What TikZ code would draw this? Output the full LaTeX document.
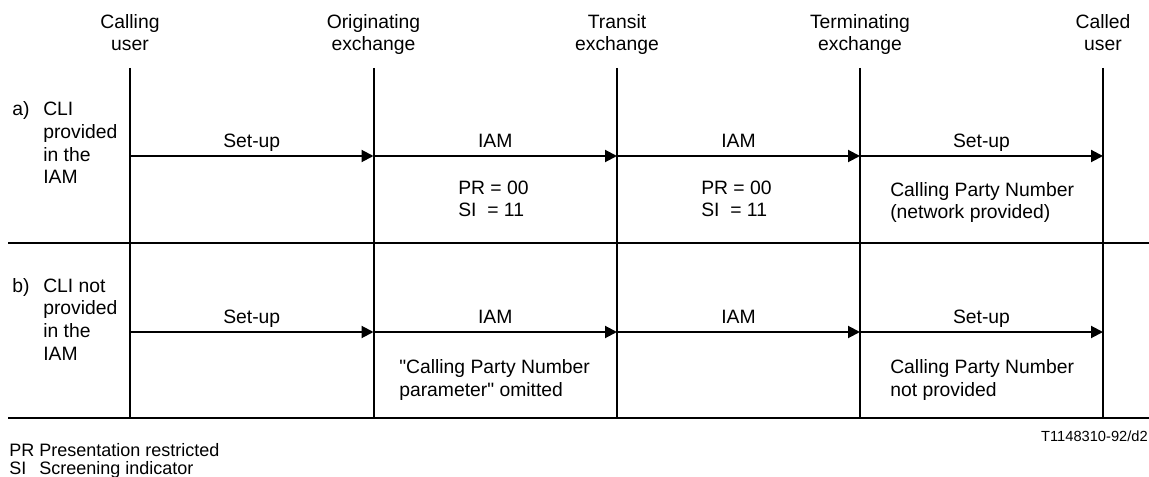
\documentclass[tikz,border=0pt]{standalone}
\usepackage{fontspec}
\setmainfont{Liberation Sans}
\usetikzlibrary{positioning,calc,arrows.meta}

\begin{document}
\begin{tikzpicture}[
		x=0.75pt, y=-0.75pt,
		every node/.style={inner sep=0pt, font=\fontsize{14.5}{17}\selectfont},
		lane/.style={line width=1.5pt},
		rule/.style={line width=1.5pt},
		msg/.style={line width=1.5pt, -{Triangle[length=9pt, width=9pt]}},
		head/.style={align=center, anchor=base},
		msglabel/.style={midway, anchor=base, yshift=6pt},
		note/.style={align=left, anchor=base west},
		small/.style={font=\fontsize{11}{13}\selectfont},
		key/.style={anchor=base west, font=\fontsize{13.5}{15}\selectfont}
		]
		\useasboundingbox (0,0) rectangle (1149,477);
		
		% -------------------------------------------------
		% Lanes
		% -------------------------------------------------
		\foreach \n/\x in {cu/130, oe/373.5, tx/617, te/860, cd/1103} {
			\coordinate (\n-top) at (\x,68);
			\coordinate (\n-bot) at (\x,418);
			\coordinate (\n-a) at (\x,156);
			\coordinate (\n-b) at (\x,332);
		}
		
		% last baseline of two-line heads
		\node[head] (cu-head) at (130,51) {Calling\\user};
		\node[head] (oe-head) at (373.5,51) {Originating\\exchange};
		\node[head] (tx-head) at (617,51) {Transit\\exchange};
		\node[head] (te-head) at (860,51) {Terminating\\exchange};
		\node[head] (cd-head) at (1103,51) {Called\\user};
		
		\foreach \n in {cu,oe,tx,te,cd}
		\draw[lane] (\n-top) -- (\n-bot);
		
		% separators
		\coordinate (sep-l) at (8,243);
		\coordinate (sep-r) at (1149,243);
		\coordinate (base-l) at (8,418);
		\coordinate (base-r) at (1149,418);
		\draw[rule] (sep-l) -- (sep-r);
		\draw[rule] (base-l) -- (base-r);
		
		% -------------------------------------------------
		% a) CLI provided
		% -------------------------------------------------
		\node[note] (a-tag) at (12,116) {a)};
		\node[note] (a-case) at (43,184) {CLI\\provided\\in the\\IAM};
		
		\draw[msg] (cu-a) -- (oe-a) node[msglabel] (a-m1) {Set-up};
		\draw[msg] (oe-a) -- (tx-a) node[msglabel] (a-m2) {IAM};
		\draw[msg] (tx-a) -- (te-a) node[msglabel] (a-m3) {IAM};
		\draw[msg] (te-a) -- (cd-a) node[msglabel] (a-m4) {Set-up};
		
		\node[note] (a-p1) at (458,217) {PR = 00\\SI\ \ = 11};
		\node[note] (a-p2) at (701,217) {PR = 00\\SI\ \ = 11};
		\node[note] (a-p3) at (890,219) {Calling Party Number\\(network provided)};
		
		% -------------------------------------------------
		% b) CLI not provided
		% -------------------------------------------------
		\node[note] (b-tag) at (12,292) {b)};
		\node[note] (b-case) at (43,360) {CLI not\\provided\\in the\\IAM};
		
		\draw[msg] (cu-b) -- (oe-b) node[msglabel] (b-m1) {Set-up};
		\draw[msg] (oe-b) -- (tx-b) node[msglabel] (b-m2) {IAM};
		\draw[msg] (tx-b) -- (te-b) node[msglabel] (b-m3) {IAM};
		\draw[msg] (te-b) -- (cd-b) node[msglabel] (b-m4) {Set-up};
		
		\node[note] (b-p1) at (399,396) {\textquotedbl Calling Party Number\\parameter\textquotedbl\ omitted};
		\node[note] (b-p3) at (890,396) {Calling Party Number\\not provided};
		
		% -------------------------------------------------
		% Footer
		% -------------------------------------------------
		\node[small, anchor=base east] (ref) at (1148,441) {T1148310-92/d2};
		\node[key] (ab-pr) at (9,456) {PR};
		\node[key] (ab-pr-t) at (39,456) {Presentation restricted};
		\node[key] (ab-si) at (9,474) {SI};
		\node[key] (ab-si-t) at (39,474) {Screening indicator};
		
	\end{tikzpicture}
\end{document}
